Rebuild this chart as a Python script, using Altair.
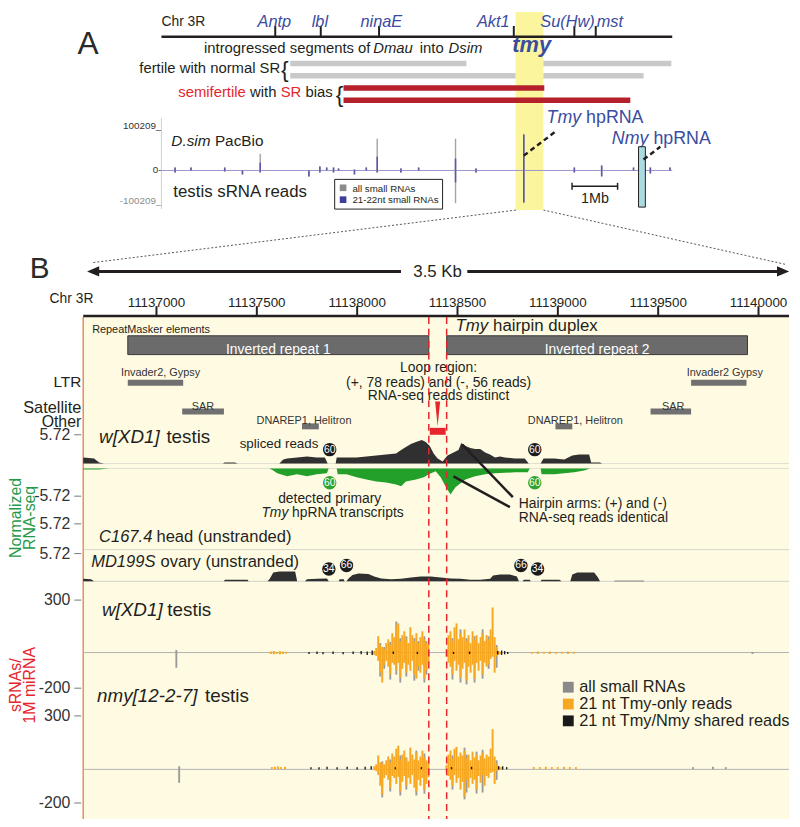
import altair as alt
import pandas as pd

FONT = "Liberation Sans"
INK = "#231f20"
BLUE = "#3a4ca0"
RED = "#e5262d"
DARKRED = "#b5202a"
ORANGE = "#f7a823"
GRAY = "#8e8e8e"
GREEN = "#22a02a"
AXGREEN = "#1f9a48"
DARK = "#303030"
CREAM = "#fffbe3"
YELLOW = "#fbf59e"

# ---------------- Panel A data (Mb on chr 3R) ----------------
CHR_VIEW_MB = [3.05, 14.27]
GENES = ["Antp", "lbl", "ninaE", "Akt1", "Su(Hw)", "mst"]
GENE_MB = [5.55, 6.55, 7.83, 10.79, 12.12, 12.59]
GENE_LABEL_MB = [5.53, 6.53, 7.88, 10.34, 11.97, 12.90]
TMY_BAND_MB = [10.83, 11.44]
NMY_BOX_MB = [13.53, 13.68]
SCALEBAR_MB = [12.07, 13.07]
INTROG_LINE = [1, 1, 2, 2, 3, 4]
INTROG_PHENO = ["fertile", "fertile", "fertile", "fertile", "semifertile", "semifertile"]
INTROG_START_MB = [5.88, 11.44, 5.88, 11.44, 7.05, 7.05]
INTROG_END_MB = [9.75, 14.25, 10.83, 13.64, 11.46, 13.35]
SPK_MB = [3.35, 3.70, 4.44, 4.83, 5.22, 6.29, 6.53, 6.68, 6.83, 6.94, 7.29, 7.55,
          7.79, 8.31, 8.70, 9.51, 9.96, 11.01, 12.12, 12.72, 13.42, 13.62, 13.79, 14.22]
SPK_ALL_UP = [7000, 7000, 7000, 0, 39600, 0, 9300, 7000, 7000, 4700, 2300, 7000,
              74600, 4700, 7000, 74600, 4700, 86200, 7000, 11650, 7000, 4700, 7000, 7000]
SPK_ALL_DN = [-6000, 0, -3000, -12100, -6000, -18200, -6000, 0, -6000, 0, -12100, 0,
              -6000, -6000, 0, -100209, -6000, -100209, -6000, -18200, 0, -12100, -9100, 0]
SPK_2122_UP = [7000, 7000, 7000, 0, 18600, 0, 9300, 7000, 7000, 4700, 2300, 7000,
               32600, 4700, 7000, 28000, 4700, 83900, 7000, 11650, 7000, 4700, 7000, 7000]
SPK_2122_DN = [-6000, 0, -3000, -12100, -6000, -18200, -6000, 0, -6000, 0, -12100, 0,
               -6000, -6000, 0, -36400, -6000, -97200, -6000, -18200, 0, -12100, -9100, 0]

# ---------------- Panel B data (bp on chr 3R) ----------------
B_VIEW_BP = [11136635, 11140152]
B_TICKS = [11137000, 11137500, 11138000, 11138500, 11139000, 11139500, 11140000]
LOOP_BP = [11138357, 11138446]
LOOP_READS_BP = [11138362, 11138441]
LOOP_MID_BP = [11138401]
IR_NAME = ["Inverted repeat 1", "Inverted repeat 2"]
IR_START = [11136857, 11138446]
IR_END = [11138357, 11139945]
REP_NAME = ["Invader2, Gypsy", "Invader2 Gypsy", "SAR", "SAR", "DNAREP1, Helitron", "DNAREP1, Helitron"]
REP_CLASS = ["LTR", "LTR", "Satellite", "Satellite", "Other", "Other"]
REP_START = [11136857, 11139664, 11137128, 11139462, 11137725, 11138988]
REP_END = [11137133, 11139940, 11137336, 11139664, 11137809, 11139072]
REP_LABEL_AT = [11137020, 11139832, 11137232, 11139575, 11137735, 11139087]

PLUS_BP = [11136635, 11136689, 11136714, 11136739, 11137331, 11137340, 11137390, 11137405, 11137612, 11137632,
           11137651, 11137701, 11137750, 11137799, 11137839, 11137853, 11137893, 11137898, 11137947, 11137997,
           11138046, 11138095, 11138144, 11138194, 11138219, 11138243, 11138268, 11138293, 11138322, 11138342,
           11138362, 11138381, 11138401, 11138426, 11138450, 11138480, 11138505, 11138519, 11138539, 11138564,
           11138588, 11138613, 11138638, 11138662, 11138687, 11138712, 11138736, 11138786, 11138835, 11138855,
           11138914, 11138929, 11138983, 11139032, 11139072, 11139106, 11139156, 11139166, 11139210, 11139220]
PLUS_VAL = [1.2, 1.0, 0.2, 0, 0, 0.2, 0.2, 0, 0, 0.8,
            1.0, 1.2, 1.4, 1.2, 1.2, 0, 0, 1.2, 1.2, 1.2,
            1.4, 1.6, 1.8, 2.0, 2.7, 3.3, 3.9, 4.3, 4.7, 4.3,
            3.5, 2.0, 1.0, 0.4, 1.6, 2.2, 2.7, 4.1, 3.5, 3.1,
            2.9, 2.9, 2.2, 1.8, 1.2, 1.4, 1.2, 1.0, 1.0, 0,
            0, 1.0, 1.0, 0.8, 1.6, 1.8, 1.8, 0.2, 0.2, 0]
MINUS_BP = [11136635, 11136714, 11136763, 11137562, 11137582, 11137602, 11137651, 11137701, 11137750, 11137799,
            11137849, 11137858, 11137898, 11137903, 11137947, 11137997, 11138046, 11138095, 11138144, 11138194,
            11138219, 11138243, 11138293, 11138332, 11138357, 11138391, 11138416, 11138440, 11138465, 11138490,
            11138539, 11138588, 11138638, 11138687, 11138786, 11138850, 11138860, 11138914, 11138919, 11138983,
            11139032, 11139082, 11139131, 11139161]
MINUS_VAL = [-0.2, -0.2, 0, 0, -0.4, -1.0, -1.6, -1.2, -1.6, -1.2,
             -1.0, 0, 0, -1.2, -1.2, -1.8, -2.3, -2.7, -2.9, -3.3,
             -3.7, -2.7, -2.3, -1.8, -1.2, -0.6, -1.8, -3.7, -5.4, -3.9,
             -2.3, -1.6, -1.2, -1.0, -0.8, -0.8, 0, 0, -1.2, -1.2,
             -1.0, -0.8, -0.4, 0]
OVARY_BP = [11136635, 11136674, 11136689, 11137336, 11137341, 11137454, 11137459, 11137553, 11137563, 11137582,
            11137612, 11137691, 11137701, 11137740, 11137750, 11137799, 11137849, 11137859, 11137908, 11137913,
            11137933, 11137937, 11137947, 11137957, 11137977, 11138007, 11138056, 11138085, 11138120, 11138169,
            11138219, 11138268, 11138317, 11138367, 11138416, 11138465, 11138515, 11138564, 11138613, 11138663,
            11138677, 11138712, 11138761, 11138796, 11138806, 11138825, 11138830, 11138860, 11138865, 11138914,
            11138919, 11139008, 11139018, 11139062, 11139072, 11139097, 11139181, 11139200, 11139210, 11139279,
            11139284, 11139427, 11139432]
OVARY_VAL = [0.5, 0.4, 0, 0, 0.3, 0.3, 0, 0, 0.4, 1.8,
             2.0, 2.0, 0, 0, 0.4, 0.5, 0.6, 0, 0, 0.4,
             0.4, 0, 0, 0.6, 1.3, 1.6, 1.5, 1.0, 0.6, 0.4,
             0.5, 0.8, 1.0, 1.0, 0.8, 0.6, 0.5, 0.3, 0.3, 0.5,
             1.2, 1.4, 1.4, 1.0, 0, 0, 0.3, 0.3, 0, 0,
             0.3, 0.3, 0, 0, 1.4, 1.8, 1.8, 0.8, 0, 0,
             0.1, 0.1, 0]
SPLICE_BP = [11137863, 11138885]
SPLICE_N = ["60", "60"]
OVARY_CIRCLE_BP = [11137859, 11137947, 11138816, 11138899]
OVARY_CIRCLE_N = ["34", "66", "66", "34"]

SRNA_BP = [11138085, 11138095, 11138105, 11138115, 11138125, 11138135, 11138145, 11138155, 11138165, 11138175,
           11138185, 11138195, 11138205, 11138215, 11138225, 11138235, 11138245, 11138255, 11138265, 11138275,
           11138285, 11138295, 11138305, 11138315, 11138325, 11138335, 11138345, 11138355,
           11138445, 11138455, 11138465, 11138475, 11138485, 11138495, 11138505, 11138515, 11138525, 11138535,
           11138545, 11138555, 11138565, 11138575, 11138585, 11138595, 11138605, 11138615, 11138625, 11138635,
           11138645, 11138655, 11138665, 11138675, 11138685, 11138695, 11138705, 11138715]
T1_TMY_UP = [11, 28, 95, 45, 34, 22, 56, 78, 45, 112, 90, 157, 168, 67, 101, 123, 78, 56, 146, 101,
             67, 112, 56, 90, 123, 78, 56, 45,
             22, 101, 123, 67, 146, 168, 78, 112, 90, 134, 67, 101, 56, 123, 78, 101, 56, 90, 112, 67,
             101, 78, 134, 258, 90, 34, 11, 6]
T1_TMY_DN = [-11, -17, -45, -112, -168, -67, -45, -78, -123, -56, -67, -101, -56, -140, -90, -56, -112, -67, -101, -45,
             -123, -146, -78, -112, -67, -146, -101, -56,
             -22, -56, -78, -123, -45, -101, -67, -140, -90, -56, -157, -78, -112, -67, -146, -56, -101, -45, -123, -56,
             -78, -67, -34, -22, -112, -22, -11, -6]
T2_TMY_UP = [11, 22, 73, 34, 28, 22, 45, 67, 34, 84, 67, 112, 129, 50, 78, 101, 56, 39, 118, 78,
             50, 90, 45, 67, 101, 62, 45, 34,
             17, 78, 101, 56, 112, 123, 67, 90, 73, 101, 56, 78, 45, 95, 62, 78, 45, 73, 90, 56,
             78, 67, 112, 224, 67, 28, 11, 6]
T2_TMY_DN = [-11, -17, -39, -101, -151, -56, -39, -67, -112, -45, -56, -90, -50, -134, -78, -45, -101, -56, -90, -39,
             -112, -134, -67, -101, -56, -123, -90, -50,
             -17, -45, -67, -101, -39, -84, -56, -123, -78, -162, -67, -112, -56, -90, -67, -123, -45, -84, -39, -101,
             -45, -56, -28, -22, -90, -17, -11, -6]
T1_GRAY_BP = [11137099, 11138115, 11138135, 11138165, 11138195, 11138215, 11138245, 11138285, 11138305, 11138335,
              11138345, 11138475, 11138515, 11138545, 11138585, 11138625, 11138655, 11138695, 11139970]
T1_GRAY_UP = [17, 56, 34, 62, 179, 84, 95, 84, 67, 95, 67, 84, 134, 84, 95, 134, 95, 45, 6]
T1_GRAY_DN = [-84, -134, -90, -151, -123, -168, -134, -157, -101, -168, -123, -151, -168, -179, -168, -146, -90, -84, -6]
T2_GRAY_BP = [11137113, 11138125, 11138165, 11138215, 11138245, 11138295, 11138335, 11138475, 11138535, 11138545,
              11138595, 11138625, 11138695, 11139674, 11139773, 11139837]
T2_GRAY_UP = [11, 39, 50, 73, 62, 101, 84, 73, 118, 78, 95, 106, 45, 6, 8, 6]
T2_GRAY_DN = [-84, -168, -134, -157, -123, -157, -146, -123, -179, -140, -145, -140, -67, -6, -8, -6]
T1_LOW_BP = [11137570, 11137585, 11137600, 11137615, 11137630, 11137645, 11138870, 11138900, 11138930, 11138960,
             11138990, 11139020, 11139050, 11139080]
T1_LOW_UP = [8, 11, 6, 10, 8, 6, 6, 8, 6, 8, 6, 6, 8, 6]
T1_LOW_DN = [-6, -8, -5, -8, -6, -4, -4, -6, -4, -6, -4, -4, -6, -4]
T2_LOW_BP = [11137575, 11137590, 11137605, 11137620, 11137640, 11138880, 11138910, 11138940, 11138970, 11139000,
             11139030, 11139060, 11139090]
T2_LOW_UP = [6, 8, 10, 6, 8, 6, 6, 8, 6, 6, 8, 6, 6]
T2_LOW_DN = [-4, -6, -6, -4, -6, -4, -4, -6, -4, -4, -6, -4, -4]
T1_SHARED_BP = [11137760, 11137800, 11137830, 11137880, 11137930, 11137980, 11138020, 11138050, 11138075, 11138180,
                11138300, 11138480, 11138560, 11138700, 11138720, 11138735, 11138750]
T1_SHARED_UP = [6, 8, 6, 8, 6, 8, 11, 8, 14, 8, 6, 6, 8, 11, 14, 11, 6]
T1_SHARED_DN = [-6, -6, -8, -6, -8, -6, -8, -11, -11, -6, -6, -6, -6, -8, -11, -8, -6]
T2_SHARED_BP = [11137770, 11137810, 11137850, 11137900, 11137950, 11138000, 11138040, 11138070, 11138190, 11138320,
                11138470, 11138570, 11138705, 11138725, 11138745]
T2_SHARED_UP = [6, 6, 8, 6, 8, 6, 8, 11, 6, 6, 6, 8, 11, 11, 6]
T2_SHARED_DN = [-6, -8, -6, -8, -6, -8, -8, -8, -6, -6, -6, -6, -8, -8, -6]

LEGEND_A = ["all small RNAs", "21-22nt small RNAs"]
LEGEND_B = ["all small RNAs", "21 nt Tmy-only reads", "21 nt Tmy/Nmy shared reads"]

# ---------------- helpers ----------------
ONE = pd.DataFrame({"k": [0]})


def px(v):
    return v - 8


def lin(domain, p0, p1):
    return alt.Scale(domain=domain, range=[px(p0), px(p1)], nice=False, zero=False)


XA = lin(CHR_VIEW_MB, 163, 679)
XB = lin(B_VIEW_BP, 84, 797)
YA_UP = lin([0, 100209], 168, 125)
YA_DN = lin([-100209, 0], 201, 168)
Y_ROW = lin([1, 4], 60, 97)
Y_PLUS = lin([0, 5.72], 464, 435)
Y_MINUS = lin([-5.72, 0], 497, 469)
Y_HEAD = lin([0, 5.72], 551, 525)
Y_OVARY = lin([0, 5.72], 583, 555)
Y_S1 = lin([-200, 300], 691, 602)
Y_S2 = lin([-200, 300], 807, 719)

L = []


def txt(s, x, y, size, color=INK, italic=False, bold=False, align="left", baseline="alphabetic", angle=None):
    kw = dict(text=s, font=FONT, fontSize=size, color=color, align=align, baseline=baseline)
    if italic:
        kw["fontStyle"] = "italic"
    if bold:
        kw["fontWeight"] = "bold"
    if angle is not None:
        kw["angle"] = angle
    L.append(alt.Chart(ONE).mark_text(**kw).encode(x=alt.value(px(x)), y=alt.value(px(y))))


def seg(x1, y1, x2, y2, color=INK, width=1.0, dash=None):
    kw = dict(color=color, strokeWidth=width)
    if dash:
        kw["strokeDash"] = dash
    L.append(alt.Chart(ONE).mark_rule(**kw).encode(
        x=alt.value(px(x1)), y=alt.value(px(y1)), x2=alt.value(px(x2)), y2=alt.value(px(y2))))


def box(x1, y1, x2, y2, fill, stroke=None, sw=0):
    kw = dict(fill=fill, opacity=1)
    if stroke:
        kw["stroke"] = stroke
        kw["strokeWidth"] = sw
    L.append(alt.Chart(ONE).mark_rect(**kw).encode(
        x=alt.value(px(x1)), y=alt.value(px(y1)), x2=alt.value(px(x2)), y2=alt.value(px(y2))))


def sym(x, y, shape, size, color):
    L.append(alt.Chart(ONE).mark_point(shape=shape, size=size, filled=True, color=color, opacity=1, strokeWidth=0)
             .encode(x=alt.value(px(x)), y=alt.value(px(y))))


def XAq(f):
    return alt.X(f, type="quantitative", scale=XA, axis=None)


def XBq(f):
    return alt.X(f, type="quantitative", scale=XB, axis=None)


def Yq(f, s):
    return alt.Y(f, type="quantitative", scale=s, axis=None)


# ---------------- backgrounds ----------------
L.append(alt.Chart(pd.DataFrame({"s": [TMY_BAND_MB[0]], "e": [TMY_BAND_MB[1]]}))
         .mark_rect(fill=YELLOW, opacity=1)
         .encode(x=XAq("s"), x2="e:Q", y=alt.value(0), y2=alt.value(px(208))))
box(84, 316, 797, 827, CREAM)
seg(84, 316, 84, 827, "#e3946c", 1.6)

# ---------------- Panel A ----------------
txt("A", 89, 50, 32, color="#2a2a2a", align="center")
txt("Chr 3R", 163, 22, 14)
L.append(alt.Chart(pd.DataFrame({"s": [CHR_VIEW_MB[0]], "e": [CHR_VIEW_MB[1]]}))
         .mark_rule(color=INK, strokeWidth=2.5)
         .encode(x=XAq("s"), x2="e:Q", y=alt.value(px(33))))
genes = pd.DataFrame({"g": GENES, "mb": GENE_MB, "lab": GENE_LABEL_MB})
L.append(alt.Chart(genes).mark_rule(color=INK, strokeWidth=2)
         .encode(x=XAq("mb"), y=alt.value(px(22)), y2=alt.value(px(33))))
L.append(alt.Chart(genes).mark_text(font=FONT, fontSize=16.5, fontStyle="italic", color=BLUE, align="center")
         .encode(x=XAq("lab"), y=alt.value(px(18)), text="g:N"))

txt("introgressed segments of", 206, 49, 15)
txt("Dmau", 377, 49, 15, italic=True)
txt("into", 424, 49, 15)
txt("Dsim", 453, 49, 15, italic=True)
txt("tmy", 537, 48, 22, color=BLUE, italic=True, bold=True, align="center")

introg = pd.DataFrame({"line": INTROG_LINE, "pheno": INTROG_PHENO, "s": INTROG_START_MB, "e": INTROG_END_MB})
L.append(alt.Chart(introg).mark_rule(strokeWidth=5.5)
         .encode(x=XAq("s"), x2="e:Q", y=Yq("line", Y_ROW),
                 color=alt.Color("pheno:N", scale=alt.Scale(domain=["fertile", "semifertile"],
                                                            range=["#c9c9c9", DARKRED]), legend=None)))
txt("fertile with normal SR", 283, 70, 15, align="right")
txt("{", 287.5, 67, 23, align="center", baseline="middle")
txt("semifertile", 180, 94, 15, color=RED)
txt("with", 252.5, 94, 15)
txt("SR", 283.5, 94, 15, color=RED)
txt("bias", 308.5, 94, 15)
txt("{", 343, 92, 23, align="center", baseline="middle")

# small-RNA track of panel A
txt("100209_", 163, 126, 10, color="#333333", align="right")
txt("0-", 163, 168, 10, color="#333333", align="right", baseline="middle")
txt("-100209_", 163, 202, 10, color="#8c8c8c", align="right")
seg(163, 115, 163, 207, "#cfcfcf", 1)
L.append(alt.Chart(pd.DataFrame({"s": [CHR_VIEW_MB[0]], "e": [CHR_VIEW_MB[1]]}))
         .mark_rule(color="#9b97cd", strokeWidth=1)
         .encode(x=XAq("s"), x2="e:Q", y=alt.value(px(168))))
spk = pd.DataFrame({"mb": SPK_MB, "au": SPK_ALL_UP, "ad": SPK_ALL_DN, "bu": SPK_2122_UP, "bd": SPK_2122_DN})
L.append(alt.Chart(spk).mark_rule(color="#a3a3a3", strokeWidth=1.4)
         .encode(x=XAq("mb"), y=Yq("au", YA_UP), y2=alt.datum(0)))
L.append(alt.Chart(spk).mark_rule(color="#a3a3a3", strokeWidth=1.4)
         .encode(x=XAq("mb"), y=Yq("ad", YA_DN), y2=alt.datum(0)))
L.append(alt.Chart(spk).mark_rule(color="#5b57aa", strokeWidth=1.6)
         .encode(x=XAq("mb"), y=Yq("bu", YA_UP), y2=alt.datum(0)))
L.append(alt.Chart(spk).mark_rule(color="#5b57aa", strokeWidth=1.6)
         .encode(x=XAq("mb"), y=Yq("bd", YA_DN), y2=alt.datum(0)))
txt("D.sim", 173, 143, 15.5, italic=True)
txt("PacBio", 217, 143, 15.5)
txt("testis sRNA reads", 175, 195, 17)
box(338, 177, 447, 207, "white", INK, 1)
sym(346.5, 185.5, "square", 45, "#8c8c8c")
sym(346.5, 197.5, "square", 45, "#3e3d9c")
txt(LEGEND_A[0], 356, 190, 9.8)
txt(LEGEND_A[1], 356, 201, 9.8)

txt("Tmy", 552, 120, 18, color=BLUE, italic=True)
txt("hpRNA", 592, 120, 18, color=BLUE)
txt("Nmy", 618, 141, 18, color=BLUE, italic=True)
txt("hpRNA", 660, 141, 18, color=BLUE)
seg(529, 153, 562, 128, INK, 2.5, [5, 3.5])
L.append(alt.Chart(pd.DataFrame({"s": [NMY_BOX_MB[0]], "e": [NMY_BOX_MB[1]]}))
         .mark_rect(fill="#a9dbe0", stroke=INK, strokeWidth=1, opacity=1)
         .encode(x=XAq("s"), x2="e:Q", y=alt.value(px(144)), y2=alt.value(px(205))))
seg(650, 157, 667, 144, INK, 2.5, [5, 3.5])
sb = pd.DataFrame({"s": [SCALEBAR_MB[0]], "e": [SCALEBAR_MB[1]]})
L.append(alt.Chart(sb).mark_rule(color=INK, strokeWidth=1.5)
         .encode(x=XAq("s"), x2="e:Q", y=alt.value(px(184))))
L.append(alt.Chart(pd.DataFrame({"m": SCALEBAR_MB})).mark_rule(color=INK, strokeWidth=1.5)
         .encode(x=XAq("m"), y=alt.value(px(180.5)), y2=alt.value(px(187.5))))
txt("1Mb", 601, 201, 14.5, align="center")
seg(521, 208, 94, 261, "#555555", 1, [2, 2])
seg(549, 208, 794, 263, "#555555", 1, [2, 2])

# ---------------- Panel B ----------------
txt("B", 40, 277, 30, color="#2a2a2a", align="center")
seg(95, 270, 405, 270, INK, 3)
seg(472, 270, 790, 270, INK, 3)
sym(94, 270, "M-1,0L1,-0.85L1,0.85Z", 150, INK)
sym(791, 270, "M1,0L-1,-0.85L-1,0.85Z", 150, INK)
txt("3.5 Kb", 442, 276, 17, align="center")
txt("Chr 3R", 50, 302, 14)
ticks = pd.DataFrame({"t": B_TICKS, "lab": [str(t) for t in B_TICKS]})
L.append(alt.Chart(ticks).mark_text(font=FONT, fontSize=13.5, color=INK, align="center")
         .encode(x=XBq("t"), y=alt.value(px(302)), text="lab:N"))
L.append(alt.Chart(ticks).mark_rule(color=INK, strokeWidth=2)
         .encode(x=XBq("t"), y=alt.value(px(305)), y2=alt.value(px(315))))
seg(84, 315, 797, 315, INK, 2.5)

txt("RepeatMasker elements", 93, 332, 11)
txt("Tmy", 460, 330, 17, italic=True)
txt("hairpin duplex", 498, 330, 17)
ir = pd.DataFrame({"n": IR_NAME, "s": IR_START, "e": IR_END})
ir["mid"] = (ir["s"] + ir["e"]) / 2
L.append(alt.Chart(ir).mark_rect(fill="#6b6b6b", stroke="#3a3a3a", strokeWidth=1, opacity=1)
         .encode(x=XBq("s"), x2="e:Q", y=alt.value(px(335)), y2=alt.value(px(354))))
L.append(alt.Chart(ir).mark_text(font=FONT, fontSize=14, color="white", align="center")
         .encode(x=XBq("mid"), y=alt.value(px(349.5)), text="n:N"))

txt("Loop region:", 443, 372, 14, align="center")
txt("(+, 78 reads) and (-, 56 reads)", 443, 387, 14, align="center")
txt("RNA-seq reads distinct", 443, 400, 14, align="center")

txt("LTR", 82, 387, 15.5, align="right")
txt("Satellite", 82, 413, 16.5, align="right")
txt("Other", 82, 427, 16, align="right")
reps = pd.DataFrame({"n": REP_NAME, "c": REP_CLASS, "s": REP_START, "e": REP_END, "lab": REP_LABEL_AT})
for cls, bar_y, text_y in [("LTR", 382.5, 373), ("Satellite", 411.5, 407), ("Other", 426.5, 421)]:
    sub = reps[reps["c"] == cls]
    L.append(alt.Chart(sub).mark_rule(color="#707070", strokeWidth=6)
             .encode(x=XBq("s"), x2="e:Q", y=alt.value(px(bar_y))))
    L.append(alt.Chart(sub).mark_text(font=FONT, fontSize=11, color="#333333", align="center")
             .encode(x=XBq("lab"), y=alt.value(px(text_y)), text="n:N"))

# loop marker
L.append(alt.Chart(pd.DataFrame({"s": [LOOP_READS_BP[0]], "e": [LOOP_READS_BP[1]]}))
         .mark_rect(fill=RED, opacity=1)
         .encode(x=XBq("s"), x2="e:Q", y=alt.value(px(428)), y2=alt.value(px(435))))
L.append(alt.Chart(pd.DataFrame({"m": LOOP_MID_BP}))
         .mark_point(shape="M-0.2,-1L0.2,-1L0,1Z", size=625, filled=True, color=RED, opacity=1, strokeWidth=0)
         .encode(x=XBq("m"), y=alt.value(px(414))))

# track baselines
for yy, col in [(464, "#e2e0d2"), (469, "#e2e0d2"), (551, "#d8d6cc"), (583, "#d0d0c8"),
                (655, "#b0b0b0"), (773, "#b0b0b0")]:
    seg(85, yy, 797, yy, col, 1)

# RNA-seq coverage
plus = pd.DataFrame({"bp": PLUS_BP, "v": PLUS_VAL})
minus = pd.DataFrame({"bp": MINUS_BP, "v": MINUS_VAL})
ovary = pd.DataFrame({"bp": OVARY_BP, "v": OVARY_VAL})
L.append(alt.Chart(plus).mark_area(color=DARK, opacity=1)
         .encode(x=XBq("bp"), y=Yq("v", Y_PLUS), y2=alt.datum(0)))
L.append(alt.Chart(minus).mark_area(color=GREEN, opacity=1)
         .encode(x=XBq("bp"), y=Yq("v", Y_MINUS), y2=alt.datum(0)))
L.append(alt.Chart(ovary).mark_area(color=DARK, opacity=1)
         .encode(x=XBq("bp"), y=Yq("v", Y_OVARY), y2=alt.datum(0)))


# small RNA tracks
def srna(ys, up, dn, gbp, gup, gdn, lbp, lup, ldn, sbp, sup, sdn):
    g = pd.DataFrame({"bp": gbp, "u": gup, "d": gdn})
    o = pd.DataFrame({"bp": SRNA_BP, "u": up, "d": dn})
    lo = pd.DataFrame({"bp": lbp, "u": lup, "d": ldn})
    sh = pd.DataFrame({"bp": sbp, "u": sup, "d": sdn})
    L.append(alt.Chart(g).mark_rule(color="#9a9a9a", strokeWidth=1.9)
             .encode(x=XBq("bp"), y=Yq("d", ys), y2="u:Q"))
    L.append(alt.Chart(o).mark_rule(color=ORANGE, strokeWidth=2.0)
             .encode(x=XBq("bp"), y=Yq("d", ys), y2="u:Q"))
    L.append(alt.Chart(lo).mark_rule(color=ORANGE, strokeWidth=2.0)
             .encode(x=XBq("bp"), y=Yq("d", ys), y2="u:Q"))
    L.append(alt.Chart(sh).mark_rule(color="#1a1a1a", strokeWidth=1.4)
             .encode(x=XBq("bp"), y=Yq("d", ys), y2="u:Q"))


srna(Y_S1, T1_TMY_UP, T1_TMY_DN, T1_GRAY_BP, T1_GRAY_UP, T1_GRAY_DN,
     T1_LOW_BP, T1_LOW_UP, T1_LOW_DN, T1_SHARED_BP, T1_SHARED_UP, T1_SHARED_DN)
srna(Y_S2, T2_TMY_UP, T2_TMY_DN, T2_GRAY_BP, T2_GRAY_UP, T2_GRAY_DN,
     T2_LOW_BP, T2_LOW_UP, T2_LOW_DN, T2_SHARED_BP, T2_SHARED_UP, T2_SHARED_DN)

# red dashed loop boundaries
L.append(alt.Chart(pd.DataFrame({"b": LOOP_BP})).mark_rule(color=RED, strokeWidth=1.5, strokeDash=[7, 5])
         .encode(x=XBq("b"), y=alt.value(px(316)), y2=alt.value(px(827))))

# y tick labels
for sc, vals, labs in [(Y_PLUS, [5.72], ["5.72"]), (Y_MINUS, [-5.72], ["-5.72"]), (Y_HEAD, [5.72], ["5.72"]),
                       (Y_OVARY, [5.72], ["5.72"]), (Y_S1, [300, -200], ["300", "-200"]),
                       (Y_S2, [300, -200], ["300", "-200"])]:
    d = pd.DataFrame({"v": vals, "lab": labs})
    L.append(alt.Chart(d).mark_text(font=FONT, fontSize=16, color="#333333", align="right", baseline="middle")
             .encode(x=alt.value(px(71)), y=Yq("v", sc), text="lab:N"))
    L.append(alt.Chart(d).mark_rule(color="#777777", strokeWidth=1)
             .encode(x=alt.value(px(75)), x2=alt.value(px(82)), y=Yq("v", sc)))

# track labels
txt("w[XD1]", 100, 443, 19, italic=True)
txt("testis", 168, 443, 19)
txt("spliced reads", 242, 448, 13.5)
txt("C167.4", 100, 543, 16.7, italic=True)
txt("head (unstranded)", 158, 543, 16.7)
txt("MD199S", 92, 569, 16.7, italic=True)
txt("ovary (unstranded)", 162, 569, 16.7)
txt("w[XD1]", 103, 618, 19, italic=True)
txt("testis", 169, 618, 19)
txt("nmy[12-2-7]", 98, 705, 19, italic=True)
txt("testis", 207, 705, 19)

# read-count circles
spl = pd.DataFrame({"bp": SPLICE_BP, "n": SPLICE_N})
for yy, col in [(450, "#1c1c1c"), (483.5, "#2ea52e")]:
    L.append(alt.Chart(spl).mark_circle(size=185, color=col, opacity=1)
             .encode(x=XBq("bp"), y=alt.value(px(yy))))
    L.append(alt.Chart(spl).mark_text(font=FONT, fontSize=10.5, color="white", align="center", baseline="middle")
             .encode(x=XBq("bp"), y=alt.value(px(yy)), text="n:N"))
ovc = pd.DataFrame({"bp": OVARY_CIRCLE_BP, "n": OVARY_CIRCLE_N})
for num, yy in [("34", 570.5), ("66", 567)]:
    sub = ovc[ovc["n"] == num]
    L.append(alt.Chart(sub).mark_circle(size=185, color="#1c1c1c", opacity=1)
             .encode(x=XBq("bp"), y=alt.value(px(yy))))
    L.append(alt.Chart(sub).mark_text(font=FONT, fontSize=10.5, color="white", align="center", baseline="middle")
             .encode(x=XBq("bp"), y=alt.value(px(yy)), text="n:N"))

txt("detected primary", 333, 504, 14, align="center")
txt("Tmy", 264, 518, 14, italic=True)
txt("hpRNA transcripts", 295, 518, 14)
seg(467, 445, 518, 498, INK, 2.5)
seg(458, 477, 515, 508, INK, 2.5)
txt("Hairpin arms: (+) and (-)", 524, 509, 14)
txt("RNA-seq reads identical", 524, 523, 14)

# legend of panel B
sym(574, 690, "square", 120, "#8a8a8a")
sym(574, 707, "square", 120, ORANGE)
sym(574, 724, "square", 120, "#1a1a1a")
txt(LEGEND_B[0], 585, 695, 16.5)
txt(LEGEND_B[1], 585, 712, 16.5)
txt(LEGEND_B[2], 585, 729, 16.5)

# axis titles
txt("Normalized", 21, 519, 16, color=AXGREEN, align="center", angle=270)
txt("RNA-seq", 35, 519, 16, color=AXGREEN, align="center", angle=270)
txt("sRNAs/", 21, 688, 16, color=RED, align="center", angle=270)
txt("1M miRNA", 35, 688, 16, color=RED, align="center", angle=270)

# the page has an 8px margin: 8 + 811 + 8 = 827 keeps the drawing inside the window
chart = (alt.layer(*L)
         .resolve_scale(x="independent", y="independent", color="independent")
         .properties(width=792, height=811, padding=0, background="white",
                     autosize=alt.AutoSizeParams(type="none"))
         .configure_view(stroke=None))
chart.save("out.html", embed_options={"renderer": "svg", "actions": False})
